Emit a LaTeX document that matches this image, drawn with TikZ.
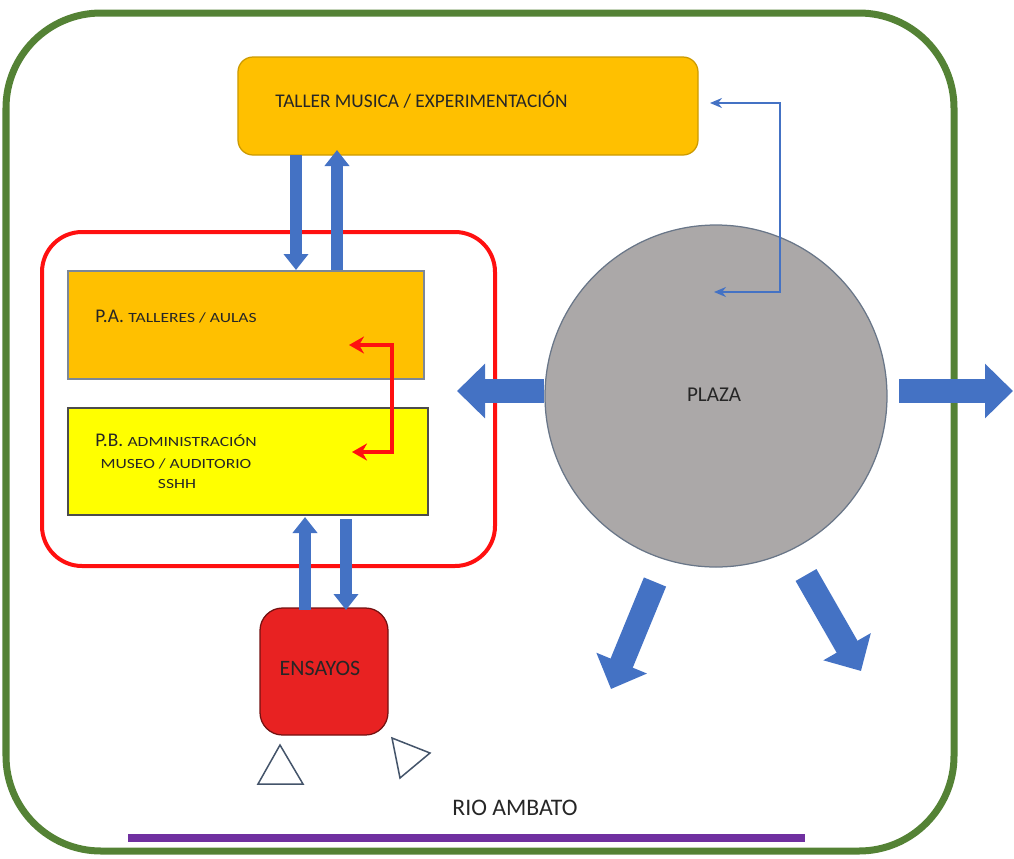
\documentclass[tikz,border=0pt]{standalone}
\usepackage{fontspec}
\setmainfont{Carlito}
\newfontfamily\ancha[FakeStretch=1.25]{Carlito}
\usepackage{tikz}
\usetikzlibrary{positioning,arrows.meta,shapes.geometric,calc}
\definecolor{lot}      {HTML}{548235}
\definecolor{bloque}   {HTML}{FF1010}
\definecolor{naranja}  {HTML}{FFC000}
\definecolor{amarillo} {HTML}{FFFF00}
\definecolor{flujo}    {HTML}{4472C4}
\definecolor{piedra}   {HTML}{ABA8A8}
\definecolor{ensayo}   {HTML}{E82222}
\definecolor{rio}      {HTML}{7030A0}
\definecolor{trazo}    {HTML}{44546A}
\newcommand\letrachica{\ancha\fontsize{8}{9}\selectfont}
\tikzset{
  >=Stealth,
  every node/.style={font=\fontsize{11}{13}\selectfont, text=black!85},
  % --- nodes
  zona/.style   = {draw=trazo!70, line width=0.25mm, inner sep=0pt},
  taller/.style = {zona, fill=naranja, draw=naranja!80!black, rounded corners=3mm,
                   minimum width=92mm, minimum height=19.6mm},
  planta/.style = {zona, minimum height=21.6mm},
  sala/.style   = {zona, fill=ensayo, draw=ensayo!50!black, rounded corners=4.5mm,
                   minimum width=25.6mm, minimum height=25.4mm},
  plaza/.style  = {circle, zona, fill=piedra, draw=trazo!80, minimum size=68.4mm},
  txt/.style    = {inner sep=0pt, anchor=west},
  chico/.style  = {font=\letrachica},
  grande/.style = {inner sep=0pt, font=\fontsize{12.5}{14}\selectfont},
  acceso/.style = {draw=trazo, line width=0.3mm, fill=white},
  % --- edges
  blk/.style    = {draw=flujo, line width=2.4mm, -{Triangle[width=4.8mm,length=3.2mm]}},
  gran/.style   = {draw=flujo, line width=4.8mm, -{Triangle[width=10.6mm,length=5.6mm]}},
  fino/.style   = {draw=flujo, line width=0.3mm, {Stealth[length=2.4mm,width=2mm]}-{Stealth[length=2.4mm,width=2mm]}},
  rojo/.style   = {draw=bloque, line width=0.8mm, {Stealth[length=3mm,width=3.4mm]}-{Stealth[length=3mm,width=3.4mm]}},
}
\begin{document}
\begin{tikzpicture}[x=0.2mm,y=-0.2mm]
  \useasboundingbox (0,0) rectangle (1014,858);
  % limite del terreno y bloque principal
  \draw[lot, line width=1.4mm, rounded corners=19mm] (6,13) rectangle (954,851);
  \draw[bloque, line width=0.8mm, rounded corners=8mm] (42,232) rectangle (495,566);

  \node[taller] (tal) at (468,106) {};
  \node[txt] (taltxt) at (275,100) {TALLER MUSICA / EXPERIMENTACIÓN};

  \node[planta, fill=naranja, minimum width=71.2mm] (pa) at (246,325) {};
  \node[txt] (patxt) at (95,317) {P.A. {\letrachica TALLERES / AULAS}};
  \node[planta, fill=amarillo, draw=black!70, minimum width=72mm, minimum height=21.4mm] (pb) at (248,461.5) {};
  \node[txt] (pbtxt) at (95,440) {P.B. {\letrachica ADMINISTRACIÓN}};
  \node[chico, inner sep=0pt] (pbtxt2) at (176,464) {MUSEO / AUDITORIO};
  \node[chico, inner sep=0pt] (pbtxt3) at (177,484) {SSHH};

  \node[sala] (ens) at (324,671.5) {};
  \node[grande] (enstxt) at (320,668) {ENSAYOS};

  \node[plaza] (plz) at (716,396) {};
  \node[grande, font=\fontsize{12}{14}\selectfont] (plztxt) at (714,395) {PLAZA};

  % accesos
  \draw[acceso] (258,784) -- (303,784) -- (280,745) -- cycle;
  \draw[acceso] (392,738) -- (430,753) -- (400,778) -- cycle;

  % flujos verticales
  \draw[blk] (296,155) -- (296,270);
  \draw[blk] (337,270) -- (337,150);
  \draw[blk] (305,610) -- (305,517);
  \draw[blk] (346,519) -- (346,610);

  % circulacion interna entre plantas
  \coordinate (paend) at (349,345);
  \coordinate (pbend) at (352,452);
  \draw[rojo] (paend) -- ++(43,0) |- (pbend);

  % enlace plaza - taller
  \coordinate (talend) at (710,103);
  \coordinate (plzend) at (714,292);
  \draw[fino] (talend) -- ++(70,0) |- (plzend);

  % salidas de la plaza
  \coordinate (oeste) at (457,391);
  \coordinate (este)  at (1013,391);
  \coordinate (sur1)  at (611,689);
  \coordinate (sur2)  at (861,671);
  \draw[gran] (plz.west |- oeste) -- (oeste);
  \draw[gran] (899,391) -- (este);
  \draw[gran] (655,582) -- (sur1);
  \draw[gran] (806,575) -- (sur2);

  % rio
  \node[inner sep=0pt, font=\fontsize{13.5}{15}\selectfont] (riotxt) at (515,808) {RIO AMBATO};
  \draw[rio, line width=1.6mm] (128,838) -- (805,838);
\end{tikzpicture}
\end{document}
